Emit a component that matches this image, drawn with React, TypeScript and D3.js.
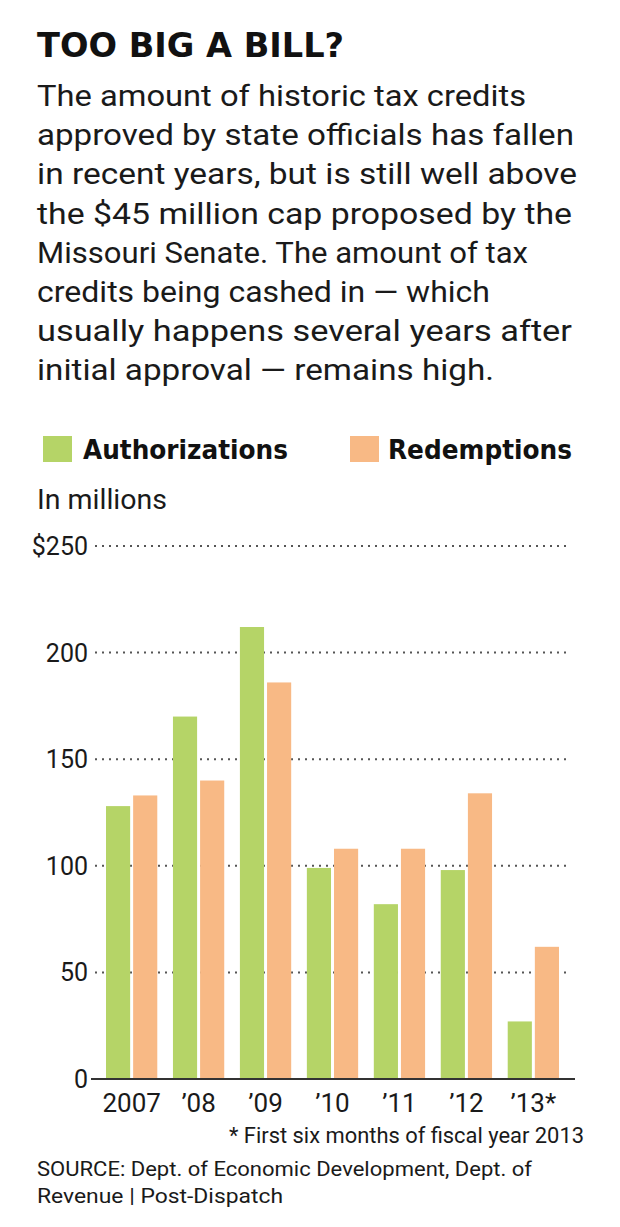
import * as d3 from 'd3'

const years = ['2007', '’08', '’09', '’10', '’11', '’12', '’13*']
const authorizations = [128, 170, 212, 99, 82, 98, 27]
const redemptions = [133, 140, 186, 108, 108, 134, 62]
const series = ['Authorizations', 'Redemptions']
const yTicks = [0, 50, 100, 150, 200, 250]

const bodyLines = [
  'The amount of historic tax credits',
  'approved by state officials has fallen',
  'in recent years, but is still well above',
  'the $45 million cap proposed by the',
  'Missouri Senate. The amount of tax',
  'credits being cashed in — which',
  'usually happens several years after',
  'initial approval — remains high.'
]
const bodyWidths = [489, 537, 540, 535, 491, 453, 535, 457]

const sourceLines = [
  'SOURCE: Dept. of Economic Development, Dept. of',
  'Revenue | Post-Dispatch'
]
const sourceWidths = [495, 246]

const colors = ['#b5d467', '#f8b985']
const font = 'Roboto, "Open Sans", sans-serif'

const App = () => {
  const width = 620
  const height = 1227

  const x = d3.scaleBand().domain(years).range([90, 575]).paddingInner(0.234).paddingOuter(0.239)
  const xInner = d3.scaleBand().domain(series).range([0, x.bandwidth()]).paddingInner(0.11)
  const y = d3.scaleLinear().domain([0, 250]).range([1079, 546])

  const values = [authorizations, redemptions]

  return (
    <svg width={width} height={height} style={{ position: 'absolute', left: 0, top: 0 }}>
      <rect width={width} height={height} fill='white' />
      <text x={37} y={57} fontFamily='"DejaVu Sans", sans-serif' fontWeight='bold' fontSize={34}
        textLength={307} lengthAdjust='spacingAndGlyphs' fill='#111'>
        TOO BIG A BILL?
      </text>
      {bodyLines.map((line, i) => (
        <text key={i} x={37} y={106 + i * 39.2} fontFamily={font} fontSize={30}
          textLength={bodyWidths[i]} lengthAdjust='spacingAndGlyphs' fill='#1a1a1a'>
          {line}
        </text>
      ))}

      {/* legend */}
      <rect x={43} y={436} width={29} height={26} fill={colors[0]} />
      <text x={83} y={459} fontFamily='"DejaVu Sans", sans-serif' fontWeight='bold' fontSize={26}
        textLength={205} lengthAdjust='spacingAndGlyphs' fill='#111'>Authorizations</text>
      <rect x={350} y={436} width={29} height={26} fill={colors[1]} />
      <text x={388} y={459} fontFamily='"DejaVu Sans", sans-serif' fontWeight='bold' fontSize={26}
        textLength={184} lengthAdjust='spacingAndGlyphs' fill='#111'>Redemptions</text>

      <text x={37} y={509} fontFamily={font} fontSize={27} textLength={130}
        lengthAdjust='spacingAndGlyphs' fill='#1a1a1a'>In millions</text>

      {/* grid */}
      {yTicks.filter((t) => t > 0).map((t) => (
        <line key={t} x1={95} x2={571} y1={y(t)} y2={y(t)} stroke='#555'
          strokeWidth={2} strokeDasharray='2,5' />
      ))}
      {yTicks.map((t) => (
        <text key={t} x={88} y={y(t) + 9} textAnchor='end' fontFamily={font}
          fontSize={25} fill='#1a1a1a'>
          {t === 250 ? '$250' : t}
        </text>
      ))}

      {/* bars */}
      {years.map((yr, i) => (
        <g key={yr} transform={`translate(${x(yr)},0)`}>
          {series.map((s, j) => (
            <rect key={s} x={xInner(s)} y={y(values[j][i])} width={xInner.bandwidth()}
              height={y(0) - y(values[j][i])} fill={colors[j]} />
          ))}
        </g>
      ))}

      <line x1={91} x2={575} y1={y(0)} y2={y(0)} stroke='#333' strokeWidth={2} />

      {years.map((yr) => (
        <text key={yr} x={x(yr) + x.bandwidth() / 2} y={1112} textAnchor='middle'
          fontFamily={font} fontSize={26} fill='#1a1a1a'>
          {yr}
        </text>
      ))}

      <text x={584} y={1143} textAnchor='end' fontFamily={font} fontSize={22}
        textLength={355} lengthAdjust='spacingAndGlyphs' fill='#1a1a1a'>
        * First six months of fiscal year 2013
      </text>
      {sourceLines.map((line, i) => (
        <text key={i} x={37} y={1176 + i * 27} fontFamily={font} fontSize={21}
          textLength={sourceWidths[i]} lengthAdjust='spacingAndGlyphs' fill='#1a1a1a'>
          {line}
        </text>
      ))}
    </svg>
  )
}

export default App
